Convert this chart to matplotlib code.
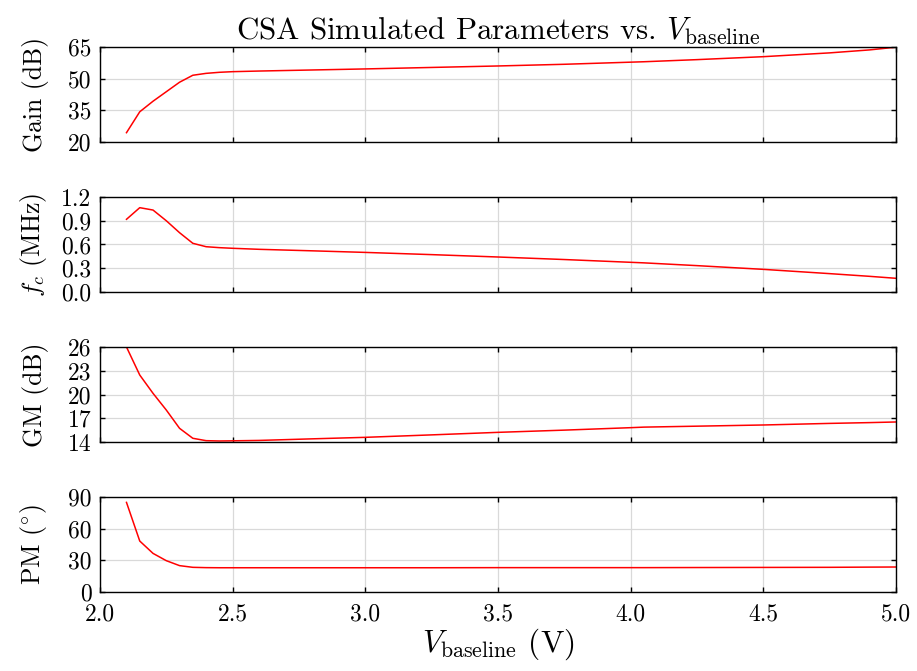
import numpy as np
import matplotlib
matplotlib.use("Agg")
import matplotlib.pyplot as plt

plt.rcParams.update({
    "font.family"    : "serif",
    "font.serif"     : ["cmr10", "DejaVu Serif"],
    "mathtext.fontset": "cm",
    "axes.formatter.use_mathtext": True,
    "axes.unicode_minus": False,
    "font.size"      : 17,
    "axes.linewidth" : 1.0,
    "xtick.direction": "in",
    "ytick.direction": "in",
    "xtick.top"      : True,
    "ytick.right"    : True,
    "xtick.major.size": 3.5,
    "ytick.major.size": 3.5,
    "xtick.major.width": 1.0,
    "ytick.major.width": 1.0,
})

# V_baseline sweep (V)
v_base = [2.10, 2.15, 2.20, 2.25, 2.30, 2.35, 2.40, 2.45, 2.50, 2.60, 2.80,
          3.00, 3.25, 3.50, 3.75, 4.00, 4.05, 4.25, 4.50, 4.75, 4.90, 5.00]

gain_db = [24.4, 34.3, 39.3, 43.8, 48.3, 51.6, 52.5, 53.0, 53.3, 53.6, 54.1,
           54.6, 55.3, 56.0, 56.8, 57.8, 58.0, 59.0, 60.4, 62.2, 63.6, 64.9]

fc_mhz = [0.918, 1.065, 1.035, 0.900, 0.749, 0.615, 0.572, 0.560, 0.552, 0.539, 0.520,
          0.500, 0.472, 0.442, 0.410, 0.375, 0.368, 0.333, 0.286, 0.232, 0.198, 0.173]

gm_db = [26.0, 22.46, 20.15, 18.04, 15.73, 14.47, 14.17, 14.13, 14.15, 14.20, 14.40,
         14.59, 14.90, 15.22, 15.50, 15.81, 15.88, 16.00, 16.15, 16.35, 16.45, 16.53]

pm_deg = [84.9, 48.3, 36.6, 29.7, 25.0, 23.4, 23.1, 23.0, 23.0, 23.0, 23.0,
          23.0, 23.0, 23.1, 23.1, 23.1, 23.1, 23.2, 23.3, 23.4, 23.6, 23.7]

panels = [
    (gain_db, "Gain (dB)",          (20, 65),  [20, 35, 50, 65],           "{:.0f}"),
    (fc_mhz,  r"$f_c$ (MHz)",       (0.0, 1.2), [0.0, 0.3, 0.6, 0.9, 1.2], "{:.1f}"),
    (gm_db,   "GM (dB)",            (14, 26),  [14, 17, 20, 23, 26],       "{:.0f}"),
    (pm_deg,  r"PM ($^{\circ}$)",   (0, 90),   [0, 30, 60, 90],            "{:.0f}"),
]

xticks = [2.0, 2.5, 3.0, 3.5, 4.0, 4.5, 5.0]

fig, axes = plt.subplots(4, 1, figsize=(9.17, 6.71), dpi=100, sharex=True)
fig.subplots_adjust(left=0.109, right=0.977, top=0.930, bottom=0.1177,
                    hspace=0.579)

for ax, (vals, label, ylim, yticks, fmt) in zip(axes, panels):
    ax.plot(v_base, vals, color="red", lw=1.1)
    ax.set_xlim(2.0, 5.0)
    ax.set_ylim(*ylim)
    ax.set_yticks(yticks)
    ax.set_yticklabels([fmt.format(t) for t in yticks])
    ax.set_xticks(xticks)
    ax.grid(True, color="#d9d9d9", lw=0.9)
    ax.set_axisbelow(True)
    ax.set_ylabel(label, fontsize=18.5)
    ax.yaxis.set_label_coords(-0.064, 0.5)
    ax.tick_params(axis="y", labelsize=17, pad=6)
    ax.tick_params(axis="x", labelsize=17, pad=8)

axes[-1].set_xticklabels([f"{t:.1f}" for t in xticks])
axes[-1].set_xlabel(r"$V_\mathrm{baseline}$ (V)", fontsize=22.5, labelpad=1)
axes[0].set_title(r"CSA Simulated Parameters vs. $V_\mathrm{baseline}$",
                  fontsize=22.3, pad=5)

fig.savefig("out.png", dpi=100)
